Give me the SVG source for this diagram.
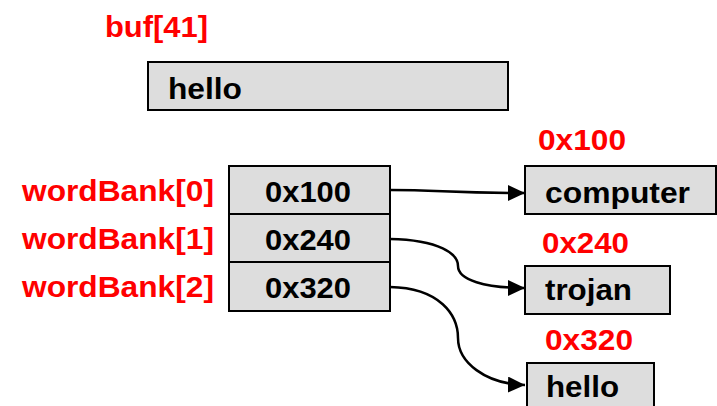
<svg xmlns="http://www.w3.org/2000/svg" width="717" height="406" viewBox="0 0 717 406">
<style>
  .box { fill: #dddddd; stroke: #000; stroke-width: 2; }
  .t { font-family: "Liberation Sans", Arial, sans-serif; font-weight: bold; font-size: 30px; }
  .blk { fill: #000; }
  .red { fill: #ff0000; }
  .conn { fill: none; stroke: #000; stroke-width: 2.5; }
</style>
<defs>
  <marker id="arr" markerUnits="userSpaceOnUse" markerWidth="18" markerHeight="16" refX="17" refY="8" orient="auto">
    <path d="M0,0 L17,8 L0,16 Z" fill="#000"/>
  </marker>
</defs>
<rect width="717" height="406" fill="#fff"/>

<g id="buf">
  <text class="t red" x="105" y="37" textLength="103" lengthAdjust="spacingAndGlyphs">buf[41]</text>
  <rect class="box" x="148" y="62" width="360" height="48"/>
  <text class="t blk" x="168" y="99" textLength="74" lengthAdjust="spacingAndGlyphs">hello</text>
</g>

<g id="wordBank0">
  <text class="t red" x="22" y="201" textLength="192" lengthAdjust="spacingAndGlyphs">wordBank[0]</text>
  <rect class="box" x="229" y="166" width="161" height="48"/>
  <text class="t blk" x="265" y="202" textLength="86" lengthAdjust="spacingAndGlyphs">0x100</text>
</g>
<g id="wordBank1">
  <text class="t red" x="22" y="249" textLength="192" lengthAdjust="spacingAndGlyphs">wordBank[1]</text>
  <rect class="box" x="229" y="214" width="161" height="48"/>
  <text class="t blk" x="265" y="250" textLength="86" lengthAdjust="spacingAndGlyphs">0x240</text>
</g>
<g id="wordBank2">
  <text class="t red" x="22" y="297" textLength="192" lengthAdjust="spacingAndGlyphs">wordBank[2]</text>
  <rect class="box" x="229" y="262" width="161" height="49"/>
  <text class="t blk" x="265" y="298" textLength="86" lengthAdjust="spacingAndGlyphs">0x320</text>
</g>

<g id="computer">
  <text class="t red" x="538" y="150" textLength="88" lengthAdjust="spacingAndGlyphs">0x100</text>
  <rect class="box" x="525" y="166" width="191" height="48"/>
  <text class="t blk" x="545" y="203" textLength="145" lengthAdjust="spacingAndGlyphs">computer</text>
</g>
<g id="trojan">
  <text class="t red" x="542" y="253" textLength="87" lengthAdjust="spacingAndGlyphs">0x240</text>
  <rect class="box" x="525" y="266" width="145" height="48"/>
  <text class="t blk" x="545" y="300" textLength="87" lengthAdjust="spacingAndGlyphs">trojan</text>
</g>
<g id="hello">
  <text class="t red" x="545" y="350" textLength="88" lengthAdjust="spacingAndGlyphs">0x320</text>
  <rect class="box" x="527" y="363" width="127" height="60"/>
  <text class="t blk" x="546" y="397" textLength="73" lengthAdjust="spacingAndGlyphs">hello</text>
</g>

<g id="connectors">
  <path class="conn" d="M390,190 C440,190 450,193 525,193" marker-end="url(#arr)"/>
  <path class="conn" d="M390,239 C440,240 458,254 458,266 C458,280 485,288 525,288" marker-end="url(#arr)"/>
  <path class="conn" d="M390,287 C440,288 458,315 458,338 C458,362 485,384 525,385" marker-end="url(#arr)"/>
</g>
</svg>
